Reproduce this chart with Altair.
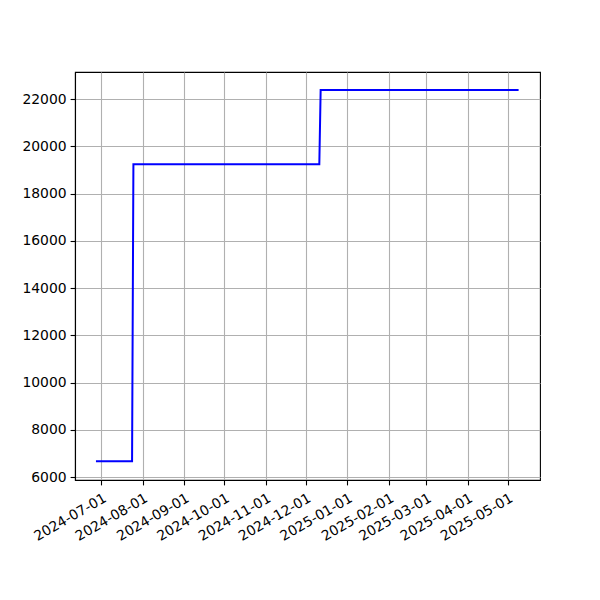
import altair as alt
import pandas as pd

dates = ["2024-06-27", "2024-07-24", "2024-07-25", "2024-12-11", "2024-12-12", "2025-05-09"]
values = [6670, 6670, 19250, 19250, 22390, 22390]

tick_months = [(2024, 7), (2024, 8), (2024, 9), (2024, 10), (2024, 11), (2024, 12),
               (2025, 1), (2025, 2), (2025, 3), (2025, 4), (2025, 5)]
y_ticks = [6000, 8000, 10000, 12000, 14000, 16000, 18000, 20000, 22000]

df = pd.DataFrame({"date": dates, "value": values})

x_domain = [alt.DateTime(year=2024, month=6, date=11, hours=8, utc=True),
            alt.DateTime(year=2025, month=5, date=25, hours=0, utc=True)]
x_values = [alt.DateTime(year=y, month=m, date=1, utc=True) for y, m in tick_months]

font = "DejaVu Sans"

chart = alt.Chart(df).mark_line(color="#0000ff", strokeWidth=2, clip=True).encode(
    x=alt.X("date:T",
            scale=alt.Scale(type="utc", domain=x_domain),
            axis=alt.Axis(values=x_values,
                          labelExpr="utcFormat(datum.value, '%Y-%m-%d')",
                          title=None, labelAngle=330, labelAlign="right",
                          labelBaseline="top", labelPadding=6)),
    y=alt.Y("value:Q",
            scale=alt.Scale(domain=[5880, 23150], nice=False, zero=False),
            axis=alt.Axis(values=y_ticks, format="d", title=None, labelPadding=4)),
).properties(
    width=465, height=408,
    autosize=alt.AutoSizeParams(type="none"),
    padding={"left": 67, "top": 64, "right": 52, "bottom": 104},
).configure_view(
    stroke="black", strokeWidth=1.1
).configure_axis(
    grid=True, gridColor="#b0b0b0", gridWidth=1.1,
    domainColor="black", domainWidth=1.1,
    tickColor="black", tickSize=4.9, tickWidth=1.1,
    labelFont=font, labelFontSize=13.9, labelColor="black",
    labelOverlap=False, labelFlush=False,
)

chart.save("out.html", embed_options={"renderer": "svg", "actions": False})
